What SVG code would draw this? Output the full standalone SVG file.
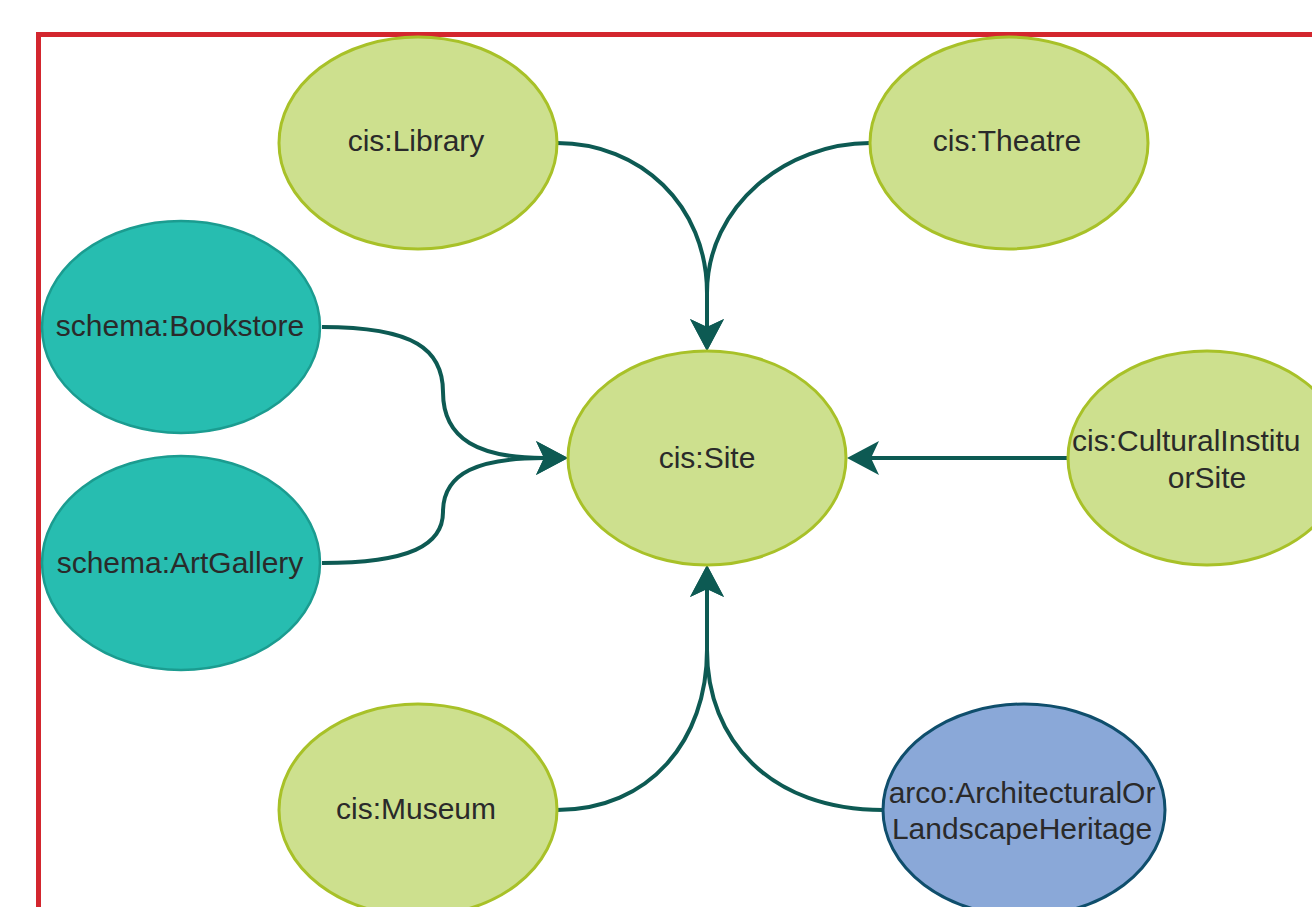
<svg xmlns="http://www.w3.org/2000/svg" width="1312" height="907" viewBox="0 0 1312 907">
<style>
.g{fill:#cde08e;stroke:#a8c128;stroke-width:3}
.t{fill:#27bdb0;stroke:#1b9c90;stroke-width:2.5}
.b{fill:#8aa8d8;stroke:#0f4e6c;stroke-width:3}
text{font-family:"Liberation Sans",Arial,sans-serif;font-size:30px;fill:#2a2a2a;text-anchor:middle}
.c path{fill:none;stroke:#0d5a53;stroke-width:4}
</style>
<defs>
<marker id="ah" markerUnits="userSpaceOnUse" viewBox="0 0 32 34" markerWidth="32" markerHeight="34" refX="8" refY="17" orient="auto">
<path d="M0,0 L32,17 L0,34 L8,17 z" fill="#0d5a53"/>
</marker>
</defs>
<rect x="38.5" y="34.5" width="1300" height="900" fill="#fff" stroke="#d3262e" stroke-width="5"/>
<g class="c" id="connectors">
<path d="M557,143 C640,143 707,205 707,293 L707,327" marker-end="url(#ah)"/>
<path d="M870,143 C787,143 707,205 707,293 L707,327" marker-end="url(#ah)"/>
<path d="M322,327 C415,327 443,350 443,392 C443,440 480,458 544,458" marker-end="url(#ah)"/>
<path d="M322,563 C410,563 443,545 443,512 C443,472 480,458 544,458" marker-end="url(#ah)"/>
<path d="M1068,458 L871,458" marker-end="url(#ah)"/>
<path d="M557,810 C650,810 707,740 707,650 L707,589" marker-end="url(#ah)"/>
<path d="M883,810 C770,810 707,740 707,650 L707,589" marker-end="url(#ah)"/>
</g>
<g id="library"><ellipse class="g" cx="418" cy="143" rx="139" ry="106"/><text x="416" y="151">cis:Library</text></g>
<g id="theatre"><ellipse class="g" cx="1009" cy="143" rx="139" ry="106"/><text x="1007" y="151">cis:Theatre</text></g>
<g id="bookstore"><ellipse class="t" cx="181" cy="327" rx="139" ry="106"/><text x="180" y="336">schema:Bookstore</text></g>
<g id="artgallery"><ellipse class="t" cx="181" cy="563" rx="139" ry="107"/><text x="180" y="573">schema:ArtGallery</text></g>
<g id="site"><ellipse class="g" cx="707" cy="458" rx="139" ry="107"/><text x="707" y="468">cis:Site</text></g>
<g id="culturalinstitution"><ellipse class="g" cx="1207" cy="458" rx="139" ry="107"/><text x="1072" y="451" style="text-anchor:start">cis:CulturalInstitu</text><text x="1207" y="488">orSite</text></g>
<g id="museum"><ellipse class="g" cx="418" cy="810" rx="139" ry="106"/><text x="416" y="819">cis:Museum</text></g>
<g id="arco"><ellipse class="b" cx="1024" cy="810" rx="141" ry="106"/><text x="1022" y="803">arco:ArchitecturalOr</text><text x="1022" y="839">LandscapeHeritage</text></g>
</svg>
